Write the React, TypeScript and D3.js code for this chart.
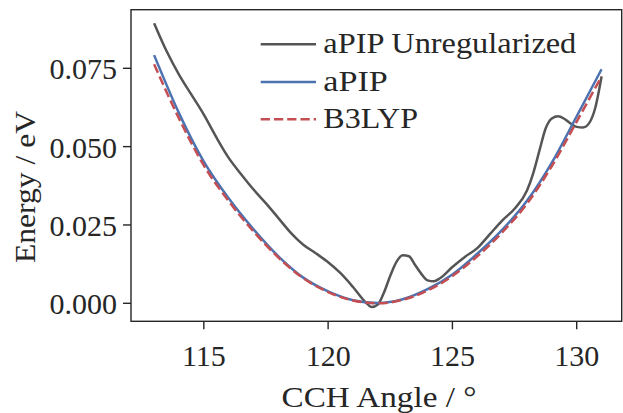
import React from "react";
import * as d3 from "d3";

const angles = [113, 114, 115, 116, 117, 118, 119, 120, 121, 122, 123, 124, 125, 126, 127, 128, 129, 130, 131];
const apip = [0.0792, 0.0607, 0.0452, 0.0335, 0.0236, 0.0150, 0.0082, 0.0038, 0.0010, 0.0001, 0.0013, 0.0045, 0.0092, 0.0158, 0.0234, 0.0327, 0.0449, 0.0597, 0.0747];
const b3lyp = [0.0763, 0.0590, 0.0440, 0.0326, 0.0229, 0.0146, 0.0080, 0.0036, 0.0009, 0.0000, 0.0011, 0.0041, 0.0087, 0.0150, 0.0226, 0.0318, 0.0438, 0.0580, 0.0724];

const unregAngles = [113.0, 113.5, 114.0, 114.5, 115.0, 115.5, 116.0, 116.5, 117.0, 117.5, 118.0, 118.5, 119.0, 119.5, 120.0, 120.5, 121.0, 121.5, 121.75, 122.0, 122.25, 122.5, 122.75, 123.0, 123.25, 123.5, 123.75, 124.0, 124.25, 124.5, 125.0, 125.5, 126.0, 126.5, 127.0, 127.5, 128.0, 128.25, 128.5, 128.75, 129.0, 129.25, 129.5, 129.75, 130.0, 130.25, 130.5, 130.75, 131.0];
const unreg = [0.0894, 0.0805, 0.0730, 0.0666, 0.0602, 0.0530, 0.0464, 0.0412, 0.0363, 0.0319, 0.0272, 0.0225, 0.0187, 0.0160, 0.0131, 0.0096, 0.0052, 0.0004, -0.0012, -0.0004, 0.0035, 0.0088, 0.0132, 0.0153, 0.0150, 0.0122, 0.0094, 0.0073, 0.0070, 0.0080, 0.0116, 0.0148, 0.0176, 0.0220, 0.0264, 0.0302, 0.0360, 0.0415, 0.0487, 0.0558, 0.0590, 0.0597, 0.0589, 0.0574, 0.0563, 0.0561, 0.0575, 0.0625, 0.0724];

const xTicks = [115, 120, 125, 130];
const yTicks = [0, 0.025, 0.05, 0.075];
const yTickLabels = ["0.000", "0.025", "0.050", "0.075"];
const legendLabels = ["aPIP Unregularized", "aPIP", "B3LYP"];

const W = 623, H = 413;
const left = 131, right = 621.7, top = 9.7, bottom = 321.3;
const FONT = "Liberation Serif, Times New Roman, Tinos, serif";

export default function App() {
  const x = d3.scaleLinear().domain([112.07, 131.81]).range([left, right]);
  const y = d3.scaleLinear().domain([0, 0.075]).range([303.3, 68.3]);

  const line = d3.line<[number, number]>()
    .x(d => x(d[0]))
    .y(d => y(d[1]))
    .curve(d3.curveMonotoneX);

  const unregPath = line(unregAngles.map((a, i) => [a, unreg[i]]));
  const apipPath = line(angles.map((a, i) => [a, apip[i]]));
  const b3Path = line(angles.map((a, i) => [a, b3lyp[i]]));

  const colors = ["#555555", "#4c72b0", "#c44e52"];
  const legendY = [44.3, 82, 119.3];
  const legendW = [253, 64.5, 94.7];

  return (
    <svg width={W} height={H} style={{ position: "absolute", left: 0, top: 0, background: "#fff", fontFamily: FONT }}>
      <rect x={0} y={0} width={W} height={H} fill="#fff" />
      <defs>
        <clipPath id="plot">
          <rect x={left} y={top} width={right - left} height={bottom - top} />
        </clipPath>
      </defs>
      <g clipPath="url(#plot)" fill="none" strokeLinejoin="round">
        <path d={unregPath || ""} stroke={colors[0]} strokeWidth={2.5} />
        <path d={apipPath || ""} stroke={colors[1]} strokeWidth={2.5} />
        <path d={b3Path || ""} stroke={colors[2]} strokeWidth={2.5} strokeDasharray="9.25,4" />
      </g>
      <rect x={left} y={top} width={right - left} height={bottom - top} fill="none" stroke="#262626" strokeWidth={1.4} />
      {xTicks.map(t => (
        <g key={"x" + t}>
          <line x1={x(t)} x2={x(t)} y1={bottom} y2={bottom + 8} stroke="#262626" strokeWidth={1.4} />
          <text x={x(t)} y={365.7} textAnchor="middle" fontSize={30} fill="#262626">{t}</text>
        </g>
      ))}
      {yTicks.map((t, i) => (
        <g key={"y" + t}>
          <line x1={left - 8} x2={left} y1={y(t)} y2={y(t)} stroke="#262626" strokeWidth={1.4} />
          <text x={117} y={y(t) + 11} textAnchor="end" fontSize={30} fill="#262626">{yTickLabels[i]}</text>
        </g>
      ))}
      <text x={379} y={406.7} textAnchor="middle" fontSize={30} fill="#262626" textLength={195} lengthAdjust="spacingAndGlyphs">CCH Angle / °</text>
      <text transform={`translate(35,187) rotate(-90)`} textAnchor="middle" fontSize={30} fill="#262626" textLength={152} lengthAdjust="spacingAndGlyphs">Energy / eV</text>
      {legendLabels.map((lab, i) => (
        <g key={lab}>
          <line x1={260.7} x2={316} y1={legendY[i]} y2={legendY[i]} stroke={colors[i]} strokeWidth={2.5} strokeDasharray={i === 2 ? "9.25,4" : undefined} />
          <text x={323.3} y={legendY[i] + 9} fontSize={29} fill="#262626" textLength={legendW[i]} lengthAdjust="spacingAndGlyphs">{lab}</text>
        </g>
      ))}
    </svg>
  );
}
